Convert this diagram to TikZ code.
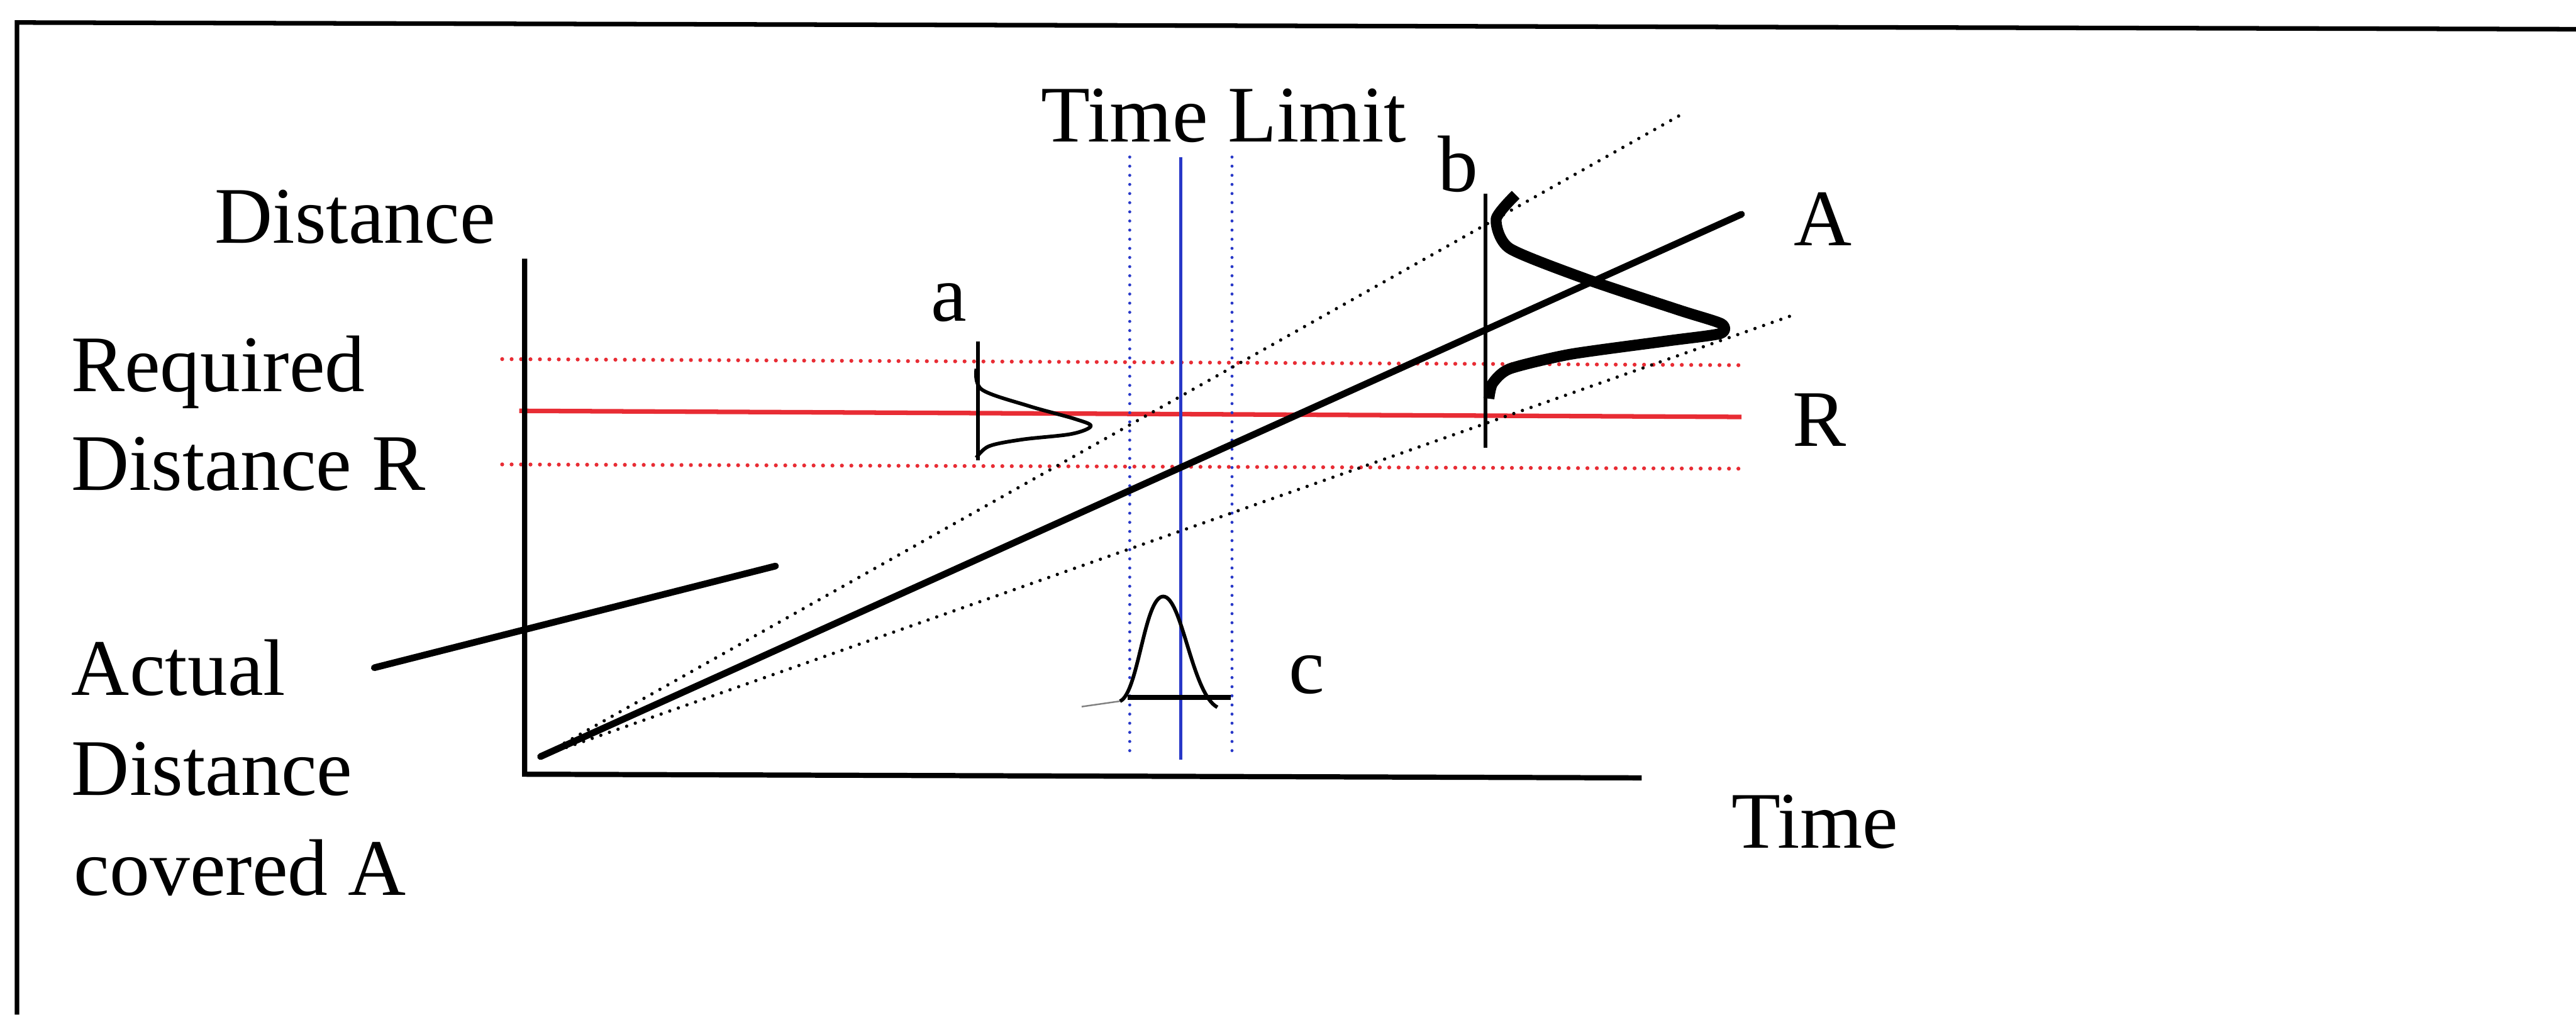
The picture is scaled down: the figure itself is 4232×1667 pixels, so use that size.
\documentclass[tikz,border=0pt]{standalone}
\usepackage{fontspec}
\setmainfont{Liberation Serif}
\usetikzlibrary{positioning}
\definecolor{cReq}{RGB}{232,44,52}
\definecolor{cLimit}{RGB}{40,56,200}
\tikzset{
	frameline/.style={line width=0.3mm, black},
	axisline/.style ={line width=0.34mm, black},
	runline/.style  ={line width=0.44mm, black, line cap=round},
	bound/.style    ={line width=0.22mm, black, dash pattern=on 0pt off 0.6mm, line cap=round},
	reqline/.style  ={line width=0.3mm, cReq},
	reqdots/.style  ={line width=0.26mm, cReq, dash pattern=on 0pt off 0.62mm, line cap=round},
	limline/.style  ={line width=0.22mm, cLimit},
	limdots/.style  ={line width=0.2mm, cLimit, dash pattern=on 0pt off 0.6mm, line cap=round},
	distcurve/.style={line width=0.24mm, black, line join=round},
	lab/.style      ={inner sep=0pt, anchor=base west, font=\fontsize{15}{18}\selectfont},
}

\begin{document}
\begin{tikzpicture}[x=0.04mm, y=-0.04mm]
	\useasboundingbox (0,0) rectangle (4232,1667);
	% frame
	\draw[frameline] (28,1667) -- (28,37) -- (4232,48);
	% required distance band
	\draw[reqline] (853,675) -- (2861,685);
	\foreach \ya/\yb in {590/600, 763/770}
		\draw[reqdots] (825,\ya) -- (2861,\yb);
	% time limit band
	\draw[limline] (1940,258) -- (1940,1248);
	\foreach \xl in {1856, 2024}
		\draw[limdots] (\xl,258) -- (\xl,1248);
	% axes
	\draw[axisline] (862,425) -- (862,1272) -- (2697,1278);
	\coordinate (orig) at (888,1243);
	\coordinate (aEnd) at (2861,352);
	\coordinate (hiEnd) at (2766,186);
	\coordinate (loEnd) at (2942,519);
	\draw[bound] (orig) -- (hiEnd);
	\draw[bound] (orig) -- (loEnd);
	\draw[runline] (orig) -- (aEnd);
	% pointer from label
	\coordinate (ptrA) at (615,1097);
	\coordinate (ptrB) at (1274,930);
	\draw[runline] (ptrA) -- (ptrB);
	% distribution a
	\draw[line width=0.24mm] (1607,561) -- (1607,756);
	\draw[distcurve] plot[smooth, tension=0.55] coordinates {(1604,606) (1613,640) (1690,667) (1765,688) (1792,700) (1760,713) (1680,722) (1625,733) (1604,752)};
	% distribution b
	\draw[line width=0.24mm] (2440,318) -- (2440,736);
	\draw[distcurve, line width=0.72mm] plot[smooth, tension=0.4] coordinates {(2490,320) (2458,360) (2480,408) (2610,460) (2760,510) (2828,532) (2826,548) (2740,560) (2580,582) (2480,606) (2452,630) (2446,655)};
	% distribution c
	\draw[line width=0.1mm, gray] (1777,1161) -- (1840,1152);
	\draw[distcurve] (1840,1152) .. controls (1870,1140) and (1880,980) .. (1911,980) .. controls (1942,980) and (1958,1140) .. (2000,1162);
	\draw[line width=0.34mm] (1853,1146) -- (2022,1146);
	% labels
	\node[lab] (distLab) at (351,399) {Distance};
	\node[lab] (reqLab) at (115,643) {Required};
	\node[lab] (reqLabB) at (115,805) {Distance R};
	\node[lab] (actLab) at (116,1142) {Actual};
	\node[lab] (actLabB) at (116,1306) {Distance};
	\node[lab] (actLabC) at (120,1471) {covered A};
	\node[lab] (limLab) at (1709,233) {Time Limit};
	\node[lab] (timeLab) at (2843,1393) {Time};
	\node[lab] (aLab) at (1528,527) {a};
	\node[lab] (bLab) at (2361,315) {b};
	\node[lab] (cLab) at (2116,1139) {c};
	\node[lab] (ALab) at (2945,403) {A};
	\node[lab] (RLab) at (2943,733) {R};
\end{tikzpicture}
\end{document}
